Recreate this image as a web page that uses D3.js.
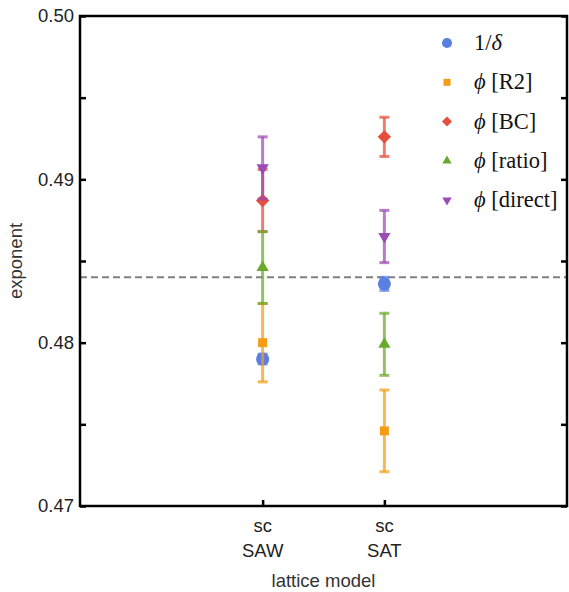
<!DOCTYPE html>
<html>
<head>
<meta charset="utf-8">
<script src="https://cdn.jsdelivr.net/npm/d3@7"></script>
<style>
  body { margin: 0; background: #fff; }
  .tick text { font-family: "Liberation Sans", Arial, sans-serif; font-size: 18.5px; fill: #222; }
</style>
</head>
<body>
<div class="canvas"></div>
<script>
// chart values
const models = ['SAW', 'SAT'];
const lattices = ['sc', 'sc'];
const modelPos = [1, 2];
const seriesNames = ['1/δ', 'ϕ [R2]', 'ϕ [BC]', 'ϕ [ratio]', 'ϕ [direct]'];
const invDelta = [0.4790, 0.4836];
const invDeltaErr = [0.0003, 0.0004];
const phiR2 = [0.4800, 0.4746];
const phiR2Err = [0.0024, 0.0025];
const phiBC = [0.4887, 0.4926];
const phiBCErr = [0.0019, 0.0012];
const phiRatio = [0.4846, 0.4799];
const phiRatioErr = [0.0022, 0.0019];
const phiDirect = [0.4907, 0.4865];
const phiDirectErr = [0.0019, 0.0016];
const referenceLine = 0.484;
const yTicks = [0.47, 0.48, 0.49, 0.50];
const yMinor = [0.475, 0.485, 0.495];

const W = 569, H = 592;
const m = {left: 80, right: 2, top: 16, bottom: 86};

const svg = d3.select('.canvas').append('svg')
    .attr('width', W)
    .attr('height', H);

const x = d3.scaleLinear().domain([-0.5, 3.5]).range([m.left, W - m.right]);
const y = d3.scaleLinear().domain([0.47, 0.50]).range([H - m.bottom, m.top]);

// dashed reference line
svg.append('line')
    .attr('x1', x(-0.5)).attr('x2', x(3.5))
    .attr('y1', y(referenceLine)).attr('y2', y(referenceLine))
    .attr('stroke', '#808080')
    .attr('stroke-width', 2)
    .attr('stroke-dasharray', '7,4');

const series = [
  {name: seriesNames[0], vals: invDelta, errs: invDeltaErr, color: '#5a7fe3', sym: d3.symbolCircle, size: 135, legSize: 80, rot: 0},
  {name: seriesNames[1], vals: phiR2, errs: phiR2Err, color: '#f59c15', sym: d3.symbolSquare, size: 81, legSize: 49, rot: 0},
  {name: seriesNames[2], vals: phiBC, errs: phiBCErr, color: '#e64e3b', sym: d3.symbolSquare, size: 90, legSize: 50, rot: 45},
  {name: seriesNames[3], vals: phiRatio, errs: phiRatioErr, color: '#6aaa2a', sym: d3.symbolTriangle, size: 65, legSize: 38, rot: 0},
  {name: seriesNames[4], vals: phiDirect, errs: phiDirectErr, color: '#9b4bb6', sym: d3.symbolTriangle, size: 65, legSize: 38, rot: 180}
];

series.forEach(s => {
  const g = svg.append('g');
  s.vals.forEach((v, i) => {
    const cx = x(modelPos[i]);
    const eb = g.append('g')
        .attr('stroke', s.color)
        .attr('stroke-opacity', 0.72)
        .attr('stroke-width', 3);
    eb.append('line')
        .attr('x1', cx).attr('x2', cx)
        .attr('y1', y(v - s.errs[i])).attr('y2', y(v + s.errs[i]));
    [v - s.errs[i], v + s.errs[i]].forEach(e => {
      eb.append('line')
          .attr('x1', cx - 5).attr('x2', cx + 5)
          .attr('y1', y(e)).attr('y2', y(e));
    });
    g.append('path')
        .attr('d', d3.symbol(s.sym, s.size)())
        .attr('fill', s.color)
        .attr('transform', `translate(${cx},${y(v)}) rotate(${s.rot})`);
  });
});

// frame
svg.append('rect')
    .attr('x', m.left).attr('y', m.top)
    .attr('width', W - m.left - m.right)
    .attr('height', H - m.top - m.bottom)
    .attr('fill', 'none')
    .attr('stroke', '#000')
    .attr('stroke-width', 2.5);

// axes with inward ticks
const yAxis = svg.append('g')
    .attr('transform', `translate(${m.left},0)`)
    .call(d3.axisLeft(y).tickValues(yTicks).tickSize(-6).tickPadding(6).tickFormat(d3.format('.2f')));
svg.append('g')
    .attr('transform', `translate(${m.left},0)`)
    .call(d3.axisLeft(y).tickValues(yMinor).tickSize(-6).tickFormat(''));
svg.append('g')
    .attr('transform', `translate(${W - m.right},0)`)
    .call(d3.axisRight(y).tickValues(yTicks.concat(yMinor)).tickSize(-6).tickFormat(''));
const xAxis = svg.append('g')
    .attr('transform', `translate(0,${H - m.bottom})`)
    .call(d3.axisBottom(x).tickValues(modelPos).tickSize(-6).tickFormat(''));

svg.selectAll('.domain').remove();
svg.selectAll('.tick line').attr('stroke', '#000').attr('stroke-width', 2.5);
yAxis.selectAll('.tick text').attr('x', -6);

// two-line category labels
modelPos.forEach((p, i) => {
  svg.append('text')
      .attr('x', x(p)).attr('y', H - m.bottom + 26)
      .attr('text-anchor', 'middle')
      .style('font-family', '"Liberation Sans", Arial, sans-serif')
      .style('font-size', '18.5px')
      .attr('fill', '#222')
      .text(lattices[i]);
  svg.append('text')
      .attr('x', x(p)).attr('y', H - m.bottom + 51)
      .attr('text-anchor', 'middle')
      .style('font-family', '"Liberation Sans", Arial, sans-serif')
      .style('font-size', '18.5px')
      .attr('fill', '#222')
      .text(models[i]);
});

// axis titles
svg.append('text')
    .attr('x', (m.left + W - m.right) / 2).attr('y', 587)
    .attr('text-anchor', 'middle')
    .style('font-family', '"Liberation Sans", Arial, sans-serif')
    .style('font-size', '18.5px')
    .attr('fill', '#333')
    .text('lattice model');
svg.append('text')
    .attr('transform', `translate(22,${(m.top + H - m.bottom) / 2}) rotate(-90)`)
    .attr('text-anchor', 'middle')
    .style('font-family', '"Liberation Sans", Arial, sans-serif')
    .style('font-size', '18.5px')
    .attr('fill', '#333')
    .text('exponent');

// legend
const legend = svg.append('g');
series.forEach((s, i) => {
  const ly = 43 + i * 39.3;
  legend.append('path')
      .attr('d', d3.symbol(s.sym, s.legSize)())
      .attr('fill', s.color)
      .attr('transform', `translate(447,${ly}) rotate(${s.rot})`);
  const t = legend.append('text')
      .attr('x', 474).attr('y', ly + 7)
      .style('font-family', '"Liberation Serif", "Times New Roman", serif')
      .style('font-size', '22.5px')
      .attr('fill', '#111');
  if (i === 0) {
    t.append('tspan').text('1/');
    t.append('tspan').style('font-style', 'italic').text('δ');
  } else {
    t.append('tspan').style('font-style', 'italic').text(s.name.slice(0, 1));
    t.append('tspan').text(' ' + s.name.slice(2));
  }
});
</script>
</body>
</html>
